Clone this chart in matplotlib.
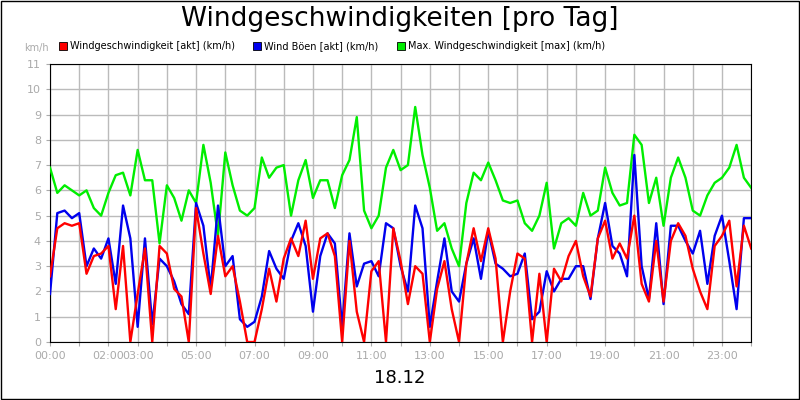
import numpy as np
import matplotlib
matplotlib.use("Agg")
import matplotlib.pyplot as plt
from matplotlib.patches import Rectangle

hours = np.arange(0, 24.01, 0.25)

gust_max = [6.9, 5.9, 6.2, 6.0, 5.8, 6.0, 5.3, 5.0, 5.9, 6.6, 6.7, 5.8, 7.6, 6.4, 6.4, 3.9,
            6.2, 5.7, 4.8, 6.0, 5.5, 7.8, 6.3, 4.2, 7.5,
            6.2, 5.2, 5.0, 5.3, 7.3, 6.5, 6.9, 7.0, 5.0, 6.4, 7.2, 5.7, 6.4, 6.4, 5.3, 6.6,
            7.2, 8.9, 5.2, 4.5, 5.0, 6.9, 7.6, 6.8, 7.0,
            9.3, 7.4, 6.1, 4.4, 4.7, 3.7, 3.0, 5.5, 6.7, 6.4, 7.1, 6.4, 5.6, 5.5, 5.6, 4.7,
            4.4, 5.0, 6.3, 3.7, 4.7, 4.9, 4.6, 5.9,
            5.0, 5.2, 6.9, 5.9, 5.4, 5.5, 8.2, 7.8, 5.5, 6.5, 4.6, 6.5, 7.3, 6.5, 5.2, 5.0,
            5.8, 6.3, 6.5, 6.9, 7.8, 6.5, 6.1]

gusts = [1.9, 5.1, 5.2, 4.9, 5.1, 3.0, 3.7, 3.3, 4.1, 2.3, 5.4, 4.1, 0.6, 4.1, 0.7, 3.3,
         3.0, 2.4, 1.5, 1.1, 5.5, 4.6, 2.1, 5.4, 3.0,
         3.4, 0.9, 0.6, 0.8, 1.8, 3.6, 2.9, 2.5, 4.0, 4.7, 3.8, 1.2, 3.4, 4.3, 3.9, 0.6,
         4.3, 2.2, 3.1, 3.2, 2.6, 4.7, 4.5, 3.0,
         2.0, 5.4, 4.5, 0.6, 2.4, 4.1, 2.0, 1.6, 3.1, 4.1, 2.5, 4.4, 3.1, 2.9, 2.6, 2.7,
         3.5, 0.9, 1.2, 2.8, 2.0, 2.5, 2.5, 3.0,
         3.0, 1.7, 4.1, 5.5, 3.8, 3.5, 2.6, 7.4, 3.0, 1.7, 4.7, 1.5, 4.6, 4.6, 4.0, 3.5,
         4.4, 2.3, 4.2, 5.0, 3.2, 1.3, 4.9, 4.9]

speed = [2.6, 4.5, 4.7, 4.6, 4.7, 2.7, 3.4, 3.5, 3.8, 1.3, 3.8, 0.0, 1.9, 3.7, 0.0, 3.8,
         3.5, 2.1, 1.8, 0.0, 5.3, 3.5, 1.9, 4.2, 2.6,
         3.0, 1.6, 0.0, 0.0, 1.3, 2.9, 1.6, 3.3, 4.1, 3.4, 4.8, 2.5, 4.1, 4.3, 3.4, 0.0,
         4.0, 1.2, 0.0, 2.8, 3.2, 0.0, 4.5, 3.2,
         1.5, 3.0, 2.7, 0.0, 2.1, 3.2, 1.3, 0.0, 3.1, 4.5, 3.2, 4.5, 3.3, 0.0, 2.0, 3.5,
         3.3, 0.0, 2.7, 0.0, 2.9, 2.4, 3.4, 4.0,
         2.6, 1.8, 4.1, 4.8, 3.3, 3.9, 3.3, 5.0, 2.3, 1.6, 4.0, 1.6, 4.0, 4.7, 4.2, 2.9,
         2.0, 1.3, 3.8, 4.2, 4.8, 2.2, 4.6, 3.7]

tick_hours = [0, 2, 3, 5, 7, 9, 11, 13, 15, 17, 19, 21, 23]
tick_labels = ["00:00", "02:00", "03:00", "05:00", "07:00", "09:00", "11:00",
               "13:00", "15:00", "17:00", "19:00", "21:00", "23:00"]
y_ticks = list(range(0, 12))

fig = plt.figure(figsize=(8, 4), dpi=100)
fig.patch.set_facecolor("white")
fig.add_artist(Rectangle((0.001, 0.002), 0.998, 0.996, transform=fig.transFigure,
                         fill=False, edgecolor="black", linewidth=1))

ax = fig.add_axes([0.0625, 0.145, 0.8765, 0.695])
ax.plot(hours, gust_max, color="#00ee00", lw=1.7, zorder=3)
ax.plot(hours, gusts, color="#0000ee", lw=1.7, zorder=4)
ax.plot(hours, speed, color="#ff0000", lw=1.7, zorder=5)

ax.set_xlim(0, 24)
ax.set_ylim(0, 11)
ax.set_yticks(y_ticks)
ax.set_xticks(range(0, 25), minor=False)
ax.set_xticklabels([tick_labels[tick_hours.index(h)] if h in tick_hours else "" for h in range(0, 25)])
ax.grid(True, color="#bbbbbb", lw=1)
ax.set_axisbelow(True)
ax.tick_params(colors="#aaaaaa", labelsize=8, length=3)
ax.tick_params(axis="x", labelcolor="#aaaaaa")
for s in ax.spines.values():
    s.set_color("black")

fig.text(0.5, 0.953, "Windgeschwindigkeiten [pro Tag]", ha="center", va="center",
         fontsize=19, color="black")
fig.text(0.045, 0.88, "km/h", ha="center", va="center", fontsize=7, color="#aaaaaa")
fig.text(0.5, 0.055, "18.12", ha="center", va="center", fontsize=13, color="black")

legend = [(0.074, "#ff0000", "Windgeschwindigkeit [akt] (km/h)"),
          (0.316, "#0000ee", "Wind Böen [akt] (km/h)"),
          (0.496, "#00ee00", "Max. Windgeschwindigkeit [max] (km/h)")]
for x, c, t in legend:
    fig.add_artist(Rectangle((x, 0.875), 0.01, 0.02, transform=fig.transFigure,
                             facecolor=c, edgecolor="black", linewidth=0.6))
    fig.text(x + 0.014, 0.885, t, ha="left", va="center", fontsize=7, color="black")

fig.savefig("out.png", dpi=100)
